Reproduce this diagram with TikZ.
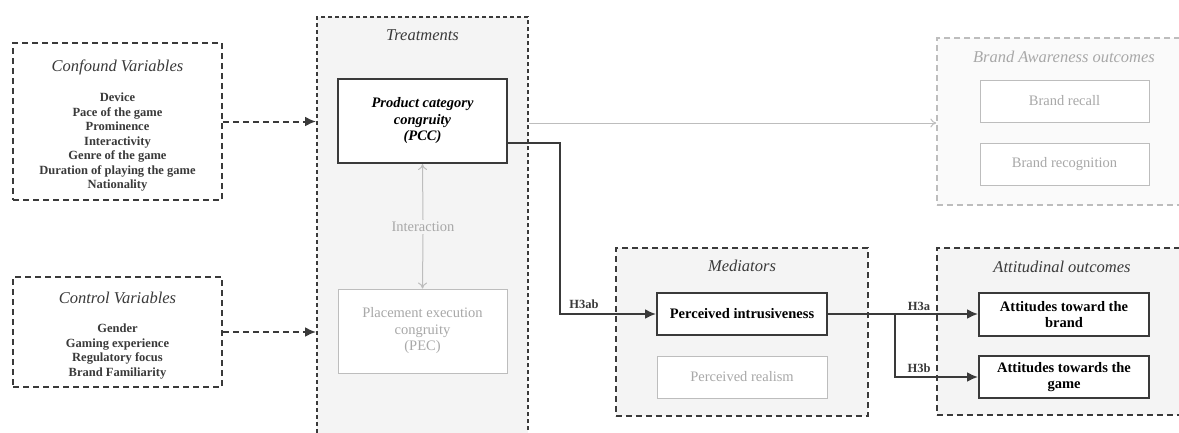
\documentclass[tikz,border=0pt]{standalone}
\usepackage{fontspec}
\setmainfont{Liberation Serif}
\usetikzlibrary{arrows.meta,calc}
\definecolor{dk}{HTML}{3A3A3A}
\definecolor{lg}{HTML}{BDBDBD}
\definecolor{lt}{HTML}{A8A8A8}
\definecolor{grpfill}{HTML}{F4F4F4}
\definecolor{awfill}{HTML}{FAFAFA}
\tikzset{
  grp/.style={draw=dk, line width=2pt, dash pattern=on 6pt off 4pt, inner sep=0pt},
  grpdense/.style={draw=dk, line width=2pt, dash pattern=on 4pt off 3pt, inner sep=0pt, fill=grpfill},
  grpgray/.style={draw=lg, line width=1.3pt, dash pattern=on 6pt off 4pt, inner sep=0pt, fill=awfill},
  title/.style={font=\fontsize{16.5}{18}\selectfont\itshape, text=dk},
  lst/.style={font=\fontsize{12.5}{14.5}\selectfont\bfseries, text=dk, align=center},
  bbox/.style={draw=dk, line width=2pt, fill=white, inner sep=0pt, align=center, text=black, font=\fontsize{14.5}{16}\selectfont\bfseries},
  gbox/.style={draw=lg, line width=1pt, fill=white, inner sep=0pt, align=center, text=lt, font=\fontsize{14.5}{16}\selectfont},
  darr/.style={draw=dk, line width=2pt, -{Latex[length=11pt,width=10pt]}},
  garr/.style={draw=lg, line width=1pt, -{To[length=6pt,width=9pt]}},
  hlab/.style={font=\fontsize{12.5}{14}\selectfont\bfseries, text=dk, inner sep=1pt}
}
\begin{document}
\begin{tikzpicture}[x=1pt,y=-1pt]
\useasboundingbox (0,0) rectangle (1179,432);
\clip (0,0) rectangle (1179,432);
\fill[white] (0,0) rectangle (1179,432);

% groups
\node[grp, minimum width=209pt, minimum height=157pt] (conf) at (117.5,121.5) {};
\node[title] (conft) at (117.5,67) {Confound Variables};
\node[lst] (confl) at (117.5,142.5) {Device\\Pace of the game\\Prominence\\Interactivity\\Genre of the game\\Duration of playing the game\\Nationality};

\node[grp, minimum width=209pt, minimum height=110pt] (ctrl) at (117.5,332) {};
\node[title] (ctrlt) at (117.5,298) {Control Variables};
\node[lst] (ctrll) at (117.5,351.5) {Gender\\Gaming experience\\Regulatory focus\\Brand Familiarity};

\node[grpdense, minimum width=211pt, minimum height=433pt] (treat) at (422.5,233.5) {};
\node[title] (treatt) at (422.5,35) {Treatments};
\node[bbox, minimum width=169pt, minimum height=84pt, font=\fontsize{14.5}{16.5}\selectfont\bfseries\itshape] (pcc) at (422.5,121) {Product category\\congruity\\(PCC)};
\node[gbox, minimum width=169pt, minimum height=84pt, font=\fontsize{14.5}{16.5}\selectfont] (pec) at (422.5,331) {Placement execution\\congruity\\(PEC)};
\node[text=lt, font=\fontsize{14.5}{16}\selectfont, fill=grpfill, inner sep=2pt] (inter) at (423,227) {Interaction};

\node[grpgray, minimum width=263pt, minimum height=167pt] (aware) at (1068.5,121.5) {};
\node[title, text=lt] (awaret) at (1064,57) {Brand Awareness outcomes};
\node[gbox, minimum width=169pt, minimum height=42pt] (recall) at (1064.5,101) {Brand recall};
\node[gbox, minimum width=169pt, minimum height=42pt] (recog) at (1064.5,164) {Brand recognition};

\node[grp, fill=grpfill, minimum width=252pt, minimum height=168pt] (med) at (742,332) {};
\node[title] (medt) at (742,266) {Mediators};
\node[bbox, minimum width=170pt, minimum height=42pt] (intr) at (742,314) {Perceived intrusiveness};
\node[gbox, minimum width=170pt, minimum height=42pt] (real) at (742,377) {Perceived realism};

\node[grp, fill=grpfill, minimum width=263pt, minimum height=167pt] (att) at (1068.5,331.5) {};
\node[title] (attt) at (1062,267) {Attitudinal outcomes};
\node[bbox, minimum width=170pt, minimum height=43pt] (attb) at (1064,314.5) {Attitudes toward the\\brand};
\node[bbox, minimum width=170pt, minimum height=42pt] (attg) at (1064,377) {Attitudes towards the\\game};

% connectors
\draw[darr, dash pattern=on 6pt off 4pt] (conf.east) -- (conf.east -| treat.west);
\draw[darr, dash pattern=on 6pt off 4pt] (ctrl.east) -- (ctrl.east -| treat.west);
\draw[garr] (inter.north) -- (pcc.south);
\draw[garr] (inter.south) -- (pec.north);
\draw[garr] ($(aware.west -| treat.east)+(0,1.5)$) -- ($(aware.west)+(0,1.5)$);

\coordinate (k1) at (560,143);
\draw[darr] (pcc.east |- k1) -- (k1) |- (intr.west);
\node[hlab] (h3ab) at (584,304) {H3ab};

\coordinate (br) at (895,314);
\draw[darr] (intr.east) -- (attb.west |- intr.east);
\draw[darr] (br) |- (attg.west);
\node[hlab] (h3a) at (919,306) {H3a};
\node[hlab] (h3b) at (919,368) {H3b};
\end{tikzpicture}
\end{document}
